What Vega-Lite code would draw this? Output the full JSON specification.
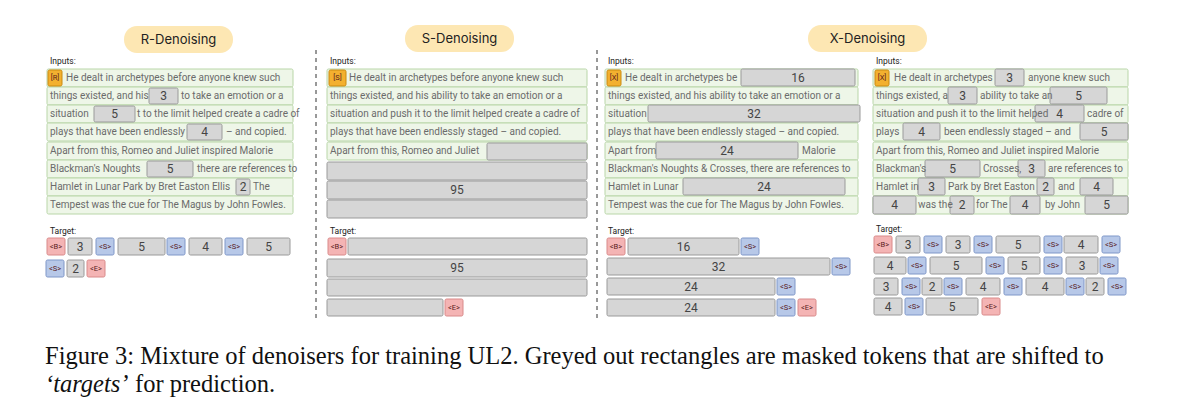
{
"$schema":"https://vega.github.io/schema/vega-lite/v6.json",
"autosize":{"type":"fit","contains":"padding"},"width":1188,"height":410,"padding":0,
"background":"white","config":{"view":{"stroke":null},"font":"Roboto"},
"datasets":{
"rects":[
{"k":"pill","x":124,"x2":233,"y":26,"y2":53,"t":"R-Denoising"},
{"k":"pill","x":405,"x2":514,"y":25,"y2":52,"t":"S-Denoising"},
{"k":"pill","x":808,"x2":927,"y":25,"y2":52,"t":"X-Denoising"},
{"k":"line","x":47,"x2":293,"y":69,"y2":87},{"k":"line","x":47,"x2":293,"y":87,"y2":105},{"k":"line","x":47,"x2":293,"y":105,"y2":123},{"k":"line","x":47,"x2":293,"y":123,"y2":141},{"k":"line","x":47,"x2":293,"y":142,"y2":160},{"k":"line","x":47,"x2":293,"y":160,"y2":178},{"k":"line","x":47,"x2":293,"y":178,"y2":196},{"k":"line","x":47,"x2":293,"y":196,"y2":214},
{"k":"line","x":327,"x2":587,"y":69,"y2":87},{"k":"line","x":327,"x2":587,"y":87,"y2":105},{"k":"line","x":327,"x2":587,"y":105,"y2":123},{"k":"line","x":327,"x2":587,"y":123,"y2":141},{"k":"line","x":327,"x2":587,"y":142,"y2":160},
{"k":"line","x":605,"x2":858,"y":69,"y2":87},{"k":"line","x":605,"x2":858,"y":87,"y2":105},{"k":"line","x":605,"x2":858,"y":105,"y2":123},{"k":"line","x":605,"x2":858,"y":123,"y2":141},{"k":"line","x":605,"x2":858,"y":142,"y2":160},{"k":"line","x":605,"x2":858,"y":160,"y2":178},{"k":"line","x":605,"x2":858,"y":178,"y2":196},{"k":"line","x":605,"x2":858,"y":196,"y2":214},
{"k":"line","x":873,"x2":1128,"y":69,"y2":87},{"k":"line","x":873,"x2":1128,"y":87,"y2":105},{"k":"line","x":873,"x2":1128,"y":105,"y2":123},{"k":"line","x":873,"x2":1128,"y":123,"y2":141},{"k":"line","x":873,"x2":1128,"y":142,"y2":160},{"k":"line","x":873,"x2":1128,"y":160,"y2":178},{"k":"line","x":873,"x2":1128,"y":178,"y2":196},{"k":"line","x":873,"x2":1128,"y":196,"y2":214},
{"k":"tag","x":48,"x2":62,"y":70,"y2":86,"t":"[R]"},
{"k":"mask","x":149,"x2":178,"y":88,"y2":104,"t":"3"},
{"k":"mask","x":94,"x2":135,"y":106,"y2":122,"t":"5"},
{"k":"mask","x":187,"x2":222,"y":124,"y2":140,"t":"4"},
{"k":"mask","x":147,"x2":193,"y":161,"y2":177,"t":"5"},
{"k":"mask","x":236,"x2":250,"y":179,"y2":195,"t":"2"},
{"k":"B","x":47,"x2":65,"y":238,"y2":255,"t":"<B>"},{"k":"mask","x":68,"x2":92,"y":238,"y2":255,"t":"3"},{"k":"S","x":96,"x2":114,"y":238,"y2":255,"t":"<S>"},{"k":"mask","x":118,"x2":165,"y":238,"y2":255,"t":"5"},{"k":"S","x":167,"x2":185,"y":238,"y2":255,"t":"<S>"},{"k":"mask","x":189,"x2":222,"y":238,"y2":255,"t":"4"},{"k":"S","x":225,"x2":243,"y":238,"y2":255,"t":"<S>"},{"k":"mask","x":247,"x2":290,"y":238,"y2":255,"t":"5"},
{"k":"S","x":46,"x2":64,"y":260,"y2":277,"t":"<S>"},{"k":"mask","x":67,"x2":84,"y":260,"y2":277,"t":"2"},{"k":"E","x":87,"x2":105,"y":260,"y2":277,"t":"<E>"},
{"k":"tag","x":329,"x2":346,"y":70,"y2":86,"t":"[S]"},
{"k":"mask","x":487,"x2":587,"y":143,"y2":160},
{"k":"mask","x":327,"x2":587,"y":162,"y2":180},{"k":"mask","x":327,"x2":587,"y":181,"y2":199,"t":"95"},{"k":"mask","x":327,"x2":587,"y":200,"y2":218},
{"k":"B","x":328,"x2":346,"y":238,"y2":255,"t":"<B>"},{"k":"mask","x":348,"x2":587,"y":238,"y2":255},
{"k":"mask","x":327,"x2":587,"y":259,"y2":277,"t":"95"},{"k":"mask","x":327,"x2":587,"y":279,"y2":296},
{"k":"mask","x":327,"x2":443,"y":299,"y2":316},{"k":"E","x":445,"x2":463,"y":299,"y2":316,"t":"<E>"},
{"k":"tag","x":607,"x2":621,"y":70,"y2":86,"t":"[X]"},
{"k":"mask","x":741,"x2":855,"y":69,"y2":86,"t":"16"},
{"k":"mask","x":648,"x2":860,"y":105,"y2":122,"t":"32"},
{"k":"mask","x":656,"x2":798,"y":142,"y2":159,"t":"24"},
{"k":"mask","x":683,"x2":845,"y":178,"y2":195,"t":"24"},
{"k":"B","x":607,"x2":625,"y":238,"y2":255,"t":"<B>"},{"k":"mask","x":628,"x2":739,"y":238,"y2":255,"t":"16"},{"k":"S","x":741,"x2":759,"y":238,"y2":255,"t":"<S>"},
{"k":"mask","x":607,"x2":830,"y":258,"y2":275,"t":"32"},{"k":"S","x":832,"x2":850,"y":258,"y2":275,"t":"<S>"},
{"k":"mask","x":607,"x2":775,"y":278,"y2":295,"t":"24"},{"k":"S","x":777,"x2":795,"y":278,"y2":295,"t":"<S>"},
{"k":"mask","x":607,"x2":775,"y":299,"y2":316,"t":"24"},{"k":"S","x":777,"x2":795,"y":299,"y2":316,"t":"<S>"},{"k":"E","x":798,"x2":816,"y":299,"y2":316,"t":"<E>"},
{"k":"tag","x":875,"x2":889,"y":70,"y2":86,"t":"[X]"},
{"k":"mask","x":995,"x2":1024,"y":69,"y2":86,"t":"3"},
{"k":"mask","x":948,"x2":977,"y":87,"y2":104,"t":"3"},{"k":"mask","x":1050,"x2":1107,"y":87,"y2":104,"t":"5"},
{"k":"mask","x":1035,"x2":1084,"y":105,"y2":122,"t":"4"},
{"k":"mask","x":903,"x2":940,"y":123,"y2":140,"t":"4"},{"k":"mask","x":1080,"x2":1128,"y":123,"y2":140,"t":"5"},
{"k":"mask","x":925,"x2":980,"y":160,"y2":177,"t":"5"},{"k":"mask","x":1018,"x2":1045,"y":160,"y2":177,"t":"3"},
{"k":"mask","x":918,"x2":945,"y":178,"y2":195,"t":"3"},{"k":"mask","x":1037,"x2":1054,"y":178,"y2":195,"t":"2"},{"k":"mask","x":1080,"x2":1113,"y":178,"y2":195,"t":"4"},
{"k":"mask","x":873,"x2":916,"y":196,"y2":214,"t":"4"},{"k":"mask","x":950,"x2":974,"y":196,"y2":214,"t":"2"},{"k":"mask","x":1010,"x2":1040,"y":196,"y2":214,"t":"4"},{"k":"mask","x":1085,"x2":1128,"y":196,"y2":214,"t":"5"},
{"k":"B","x":874,"x2":892,"y":236,"y2":253,"t":"<B>"},{"k":"mask","x":896,"x2":920,"y":236,"y2":253,"t":"3"},{"k":"S","x":924,"x2":942,"y":236,"y2":253,"t":"<S>"},{"k":"mask","x":946,"x2":970,"y":236,"y2":253,"t":"3"},{"k":"S","x":974,"x2":992,"y":236,"y2":253,"t":"<S>"},{"k":"mask","x":996,"x2":1040,"y":236,"y2":253,"t":"5"},{"k":"S","x":1044,"x2":1062,"y":236,"y2":253,"t":"<S>"},{"k":"mask","x":1064,"x2":1098,"y":236,"y2":253,"t":"4"},{"k":"S","x":1102,"x2":1120,"y":236,"y2":253,"t":"<S>"},
{"k":"mask","x":874,"x2":906,"y":257,"y2":274,"t":"4"},{"k":"S","x":908,"x2":926,"y":257,"y2":274,"t":"<S>"},{"k":"mask","x":930,"x2":982,"y":257,"y2":274,"t":"5"},{"k":"S","x":986,"x2":1004,"y":257,"y2":274,"t":"<S>"},{"k":"mask","x":1008,"x2":1040,"y":257,"y2":274,"t":"5"},{"k":"S","x":1044,"x2":1062,"y":257,"y2":274,"t":"<S>"},{"k":"mask","x":1066,"x2":1098,"y":257,"y2":274,"t":"3"},{"k":"S","x":1100,"x2":1118,"y":257,"y2":274,"t":"<S>"},
{"k":"mask","x":874,"x2":898,"y":278,"y2":295,"t":"3"},{"k":"S","x":902,"x2":920,"y":278,"y2":295,"t":"<S>"},{"k":"mask","x":922,"x2":942,"y":278,"y2":295,"t":"2"},{"k":"S","x":944,"x2":962,"y":278,"y2":295,"t":"<S>"},{"k":"mask","x":966,"x2":1000,"y":278,"y2":295,"t":"4"},{"k":"S","x":1004,"x2":1022,"y":278,"y2":295,"t":"<S>"},{"k":"mask","x":1026,"x2":1064,"y":278,"y2":295,"t":"4"},{"k":"S","x":1066,"x2":1084,"y":278,"y2":295,"t":"<S>"},{"k":"mask","x":1086,"x2":1104,"y":278,"y2":295,"t":"2"},{"k":"S","x":1108,"x2":1126,"y":278,"y2":295,"t":"<S>"},
{"k":"mask","x":874,"x2":902,"y":298,"y2":315,"t":"4"},{"k":"S","x":905,"x2":923,"y":298,"y2":315,"t":"<S>"},{"k":"mask","x":926,"x2":978,"y":298,"y2":315,"t":"5"},{"k":"E","x":982,"x2":1000,"y":298,"y2":315,"t":"<E>"}
],
"texts":[
{"k":"h","x":50,"y":61,"t":"Inputs:"},{"k":"h","x":330,"y":61,"t":"Inputs:"},{"k":"h","x":608,"y":61,"t":"Inputs:"},{"k":"h","x":876,"y":61,"t":"Inputs:"},
{"k":"h","x":50,"y":231,"t":"Target:"},{"k":"h","x":330,"y":231,"t":"Target:"},{"k":"h","x":608,"y":231,"t":"Target:"},{"k":"h","x":876,"y":229,"t":"Target:"},
{"k":"s","x":66,"y":78,"t":"He dealt in archetypes before anyone knew such"},
{"k":"s","x":50,"y":96,"t":"things existed, and his"},{"k":"s","x":181,"y":96,"t":"to take an emotion or a"},
{"k":"s","x":50,"y":114,"t":"situation"},{"k":"s","x":137,"y":114,"t":"t to the limit helped create a cadre of"},
{"k":"s","x":50,"y":132,"t":"plays that have been endlessly"},{"k":"s","x":226,"y":132,"t":"– and copied."},
{"k":"s","x":50,"y":151,"t":"Apart from  this, Romeo and Juliet inspired Malorie"},
{"k":"s","x":50,"y":169,"t":"Blackman's Noughts"},{"k":"s","x":197,"y":169,"t":"there are references to"},
{"k":"s","x":50,"y":187,"t":"Hamlet in Lunar Park by Bret Easton Ellis"},{"k":"s","x":253,"y":187,"t":"The"},
{"k":"s","x":50,"y":205,"t":"Tempest was the cue for The Magus by John Fowles."},
{"k":"s","x":349,"y":78,"t":"He dealt in archetypes before anyone knew such"},
{"k":"s","x":330,"y":96,"t":"things existed, and his ability to take an emotion or a"},
{"k":"s","x":330,"y":114,"t":"situation and push it to the limit helped create a cadre of"},
{"k":"s","x":330,"y":132,"t":"plays that have been endlessly staged – and copied."},
{"k":"s","x":330,"y":151,"t":"Apart from  this, Romeo and Juliet"},
{"k":"s","x":625,"y":78,"t":"He dealt in archetypes be"},
{"k":"s","x":608,"y":96,"t":"things existed, and his ability to take an emotion or a"},
{"k":"s","x":608,"y":114,"t":"situation"},
{"k":"s","x":608,"y":132,"t":"plays that have been endlessly staged – and copied."},
{"k":"s","x":608,"y":151,"t":"Apart from"},{"k":"s","x":802,"y":151,"t":"Malorie"},
{"k":"s","x":608,"y":169,"t":"Blackman's Noughts & Crosses, there are references to"},
{"k":"s","x":608,"y":187,"t":"Hamlet in Lunar"},
{"k":"s","x":608,"y":205,"t":"Tempest was the cue for The Magus by John Fowles."},
{"k":"s","x":894,"y":78,"t":"He dealt in archetypes"},{"k":"s","x":1028,"y":78,"t":"anyone knew such"},
{"k":"s","x":876,"y":96,"t":"things existed, a"},{"k":"s","x":980,"y":96,"t":"ability to take an"},
{"k":"s","x":876,"y":114,"t":"situation and push it to the limit helped"},{"k":"s","x":1087,"y":114,"t":"cadre of"},
{"k":"s","x":876,"y":132,"t":"plays"},{"k":"s","x":944,"y":132,"t":"been endlessly staged – and"},
{"k":"s","x":876,"y":151,"t":"Apart from  this, Romeo and Juliet inspired Malorie"},
{"k":"s","x":876,"y":169,"t":"Blackman's"},{"k":"s","x":983,"y":169,"t":"Crosses,"},{"k":"s","x":1048,"y":169,"t":"are references to"},
{"k":"s","x":876,"y":187,"t":"Hamlet in"},{"k":"s","x":948,"y":187,"t":"Park by Bret Easton"},{"k":"s","x":1058,"y":187,"t":"and"},
{"k":"s","x":918,"y":205,"t":"was the"},{"k":"s","x":976,"y":205,"t":"for The"},{"k":"s","x":1045,"y":205,"t":"by John"},
{"k":"cap","x":45,"y":357,"t":"Figure 3: Mixture of denoisers for training UL2. Greyed out rectangles are masked tokens that are shifted to"},
{"k":"capi","x":45,"y":385,"t":"‘targets’"},{"k":"cap","x":135,"y":385,"t":"for prediction."}
],
"divs":[{"x":316,"y":50,"y2":320},{"x":597,"y":50,"y2":320}]
},
"layer":[
{"data":{"name":"rects"},"transform":[{"filter":"datum.k=='pill'"}],"mark":{"type":"rect","cornerRadius":13,"color":"#fde7b3"},
 "encoding":{
  "x":{"field":"x","type":"quantitative","scale":{"domain":[0,1188],"nice":false,"zero":false},"axis":null},
  "x2":{"field":"x2"},
  "y":{"field":"y","type":"quantitative","scale":{"domain":[0,410],"nice":false,"zero":false,"reverse":true},"axis":null},
  "y2":{"field":"y2"}}},
{"data":{"name":"rects"},"transform":[{"filter":"datum.k!='pill'"}],"mark":{"type":"rect","strokeWidth":1,"cornerRadius":1.5},
 "encoding":{
  "x":{"field":"x","type":"quantitative"},
  "x2":{"field":"x2"},
  "y":{"field":"y","type":"quantitative"},
  "y2":{"field":"y2"},
  "fill":{"field":"k","type":"nominal","legend":null,"scale":{"domain":["line","mask","tag","B","E","S"],"range":["#eef6e8","#d6d6d6","#f3b02f","#f4b4b4","#f4b4b4","#b7c8e8"]}},
  "stroke":{"field":"k","type":"nominal","legend":null,"scale":{"domain":["line","mask","tag","B","E","S"],"range":["#b9d6a8","#9a9a9a","#c98a10","#d98a8a","#d98a8a","#7f97c8"]}}
 }},
{"data":{"name":"divs"},"mark":{"type":"rule","strokeDash":[4,4],"color":"#333","strokeWidth":1},
 "encoding":{"x":{"field":"x","type":"quantitative"},"y":{"field":"y","type":"quantitative"},"y2":{"field":"y2"}}},
{"data":{"name":"rects"},"transform":[{"filter":"datum.k=='mask' && datum.t"},{"calculate":"(datum.x+datum.x2)/2","as":"cx"},{"calculate":"(datum.y+datum.y2)/2","as":"cy"}],
 "mark":{"type":"text","fontSize":12,"color":"#444","baseline":"middle"},
 "encoding":{"x":{"field":"cx","type":"quantitative"},"y":{"field":"cy","type":"quantitative"},"text":{"field":"t"}}},
{"data":{"name":"rects"},"transform":[{"filter":"indexof(['tag','B','E','S'],datum.k)>=0"},{"calculate":"(datum.x+datum.x2)/2","as":"cx"},{"calculate":"(datum.y+datum.y2)/2","as":"cy"}],
 "mark":{"type":"text","fontSize":7.5,"color":"#5a1d1d","baseline":"middle"},
 "encoding":{"x":{"field":"cx","type":"quantitative"},"y":{"field":"cy","type":"quantitative"},"text":{"field":"t"}}},
{"data":{"name":"rects"},"transform":[{"filter":"datum.k=='pill'"},{"calculate":"(datum.x+datum.x2)/2","as":"cx"},{"calculate":"(datum.y+datum.y2)/2","as":"cy"}],
 "mark":{"type":"text","fontSize":13,"font":"Inter","color":"#222","baseline":"middle"},
 "encoding":{"x":{"field":"cx","type":"quantitative"},"y":{"field":"cy","type":"quantitative"},"text":{"field":"t"}}},
{"data":{"name":"texts"},"transform":[{"filter":"datum.k=='s'"}],
 "mark":{"type":"text","fontSize":10,"color":"#6b6b6b","align":"left","baseline":"middle"},
 "encoding":{"x":{"field":"x","type":"quantitative"},"y":{"field":"y","type":"quantitative"},"text":{"field":"t"}}},
{"data":{"name":"texts"},"transform":[{"filter":"datum.k=='h'"}],
 "mark":{"type":"text","fontSize":8.5,"color":"#222","align":"left","baseline":"middle"},
 "encoding":{"x":{"field":"x","type":"quantitative"},"y":{"field":"y","type":"quantitative"},"text":{"field":"t"}}},
{"data":{"name":"texts"},"transform":[{"filter":"datum.k=='cap'"}],
 "mark":{"type":"text","fontSize":24.5,"font":"Liberation Serif","color":"#111","align":"left","baseline":"middle"},
 "encoding":{"x":{"field":"x","type":"quantitative"},"y":{"field":"y","type":"quantitative"},"text":{"field":"t"}}},
{"data":{"name":"texts"},"transform":[{"filter":"datum.k=='capi'"}],
 "mark":{"type":"text","fontSize":24.5,"font":"Liberation Serif","fontStyle":"italic","color":"#111","align":"left","baseline":"middle"},
 "encoding":{"x":{"field":"x","type":"quantitative"},"y":{"field":"y","type":"quantitative"},"text":{"field":"t"}}}
]
}
